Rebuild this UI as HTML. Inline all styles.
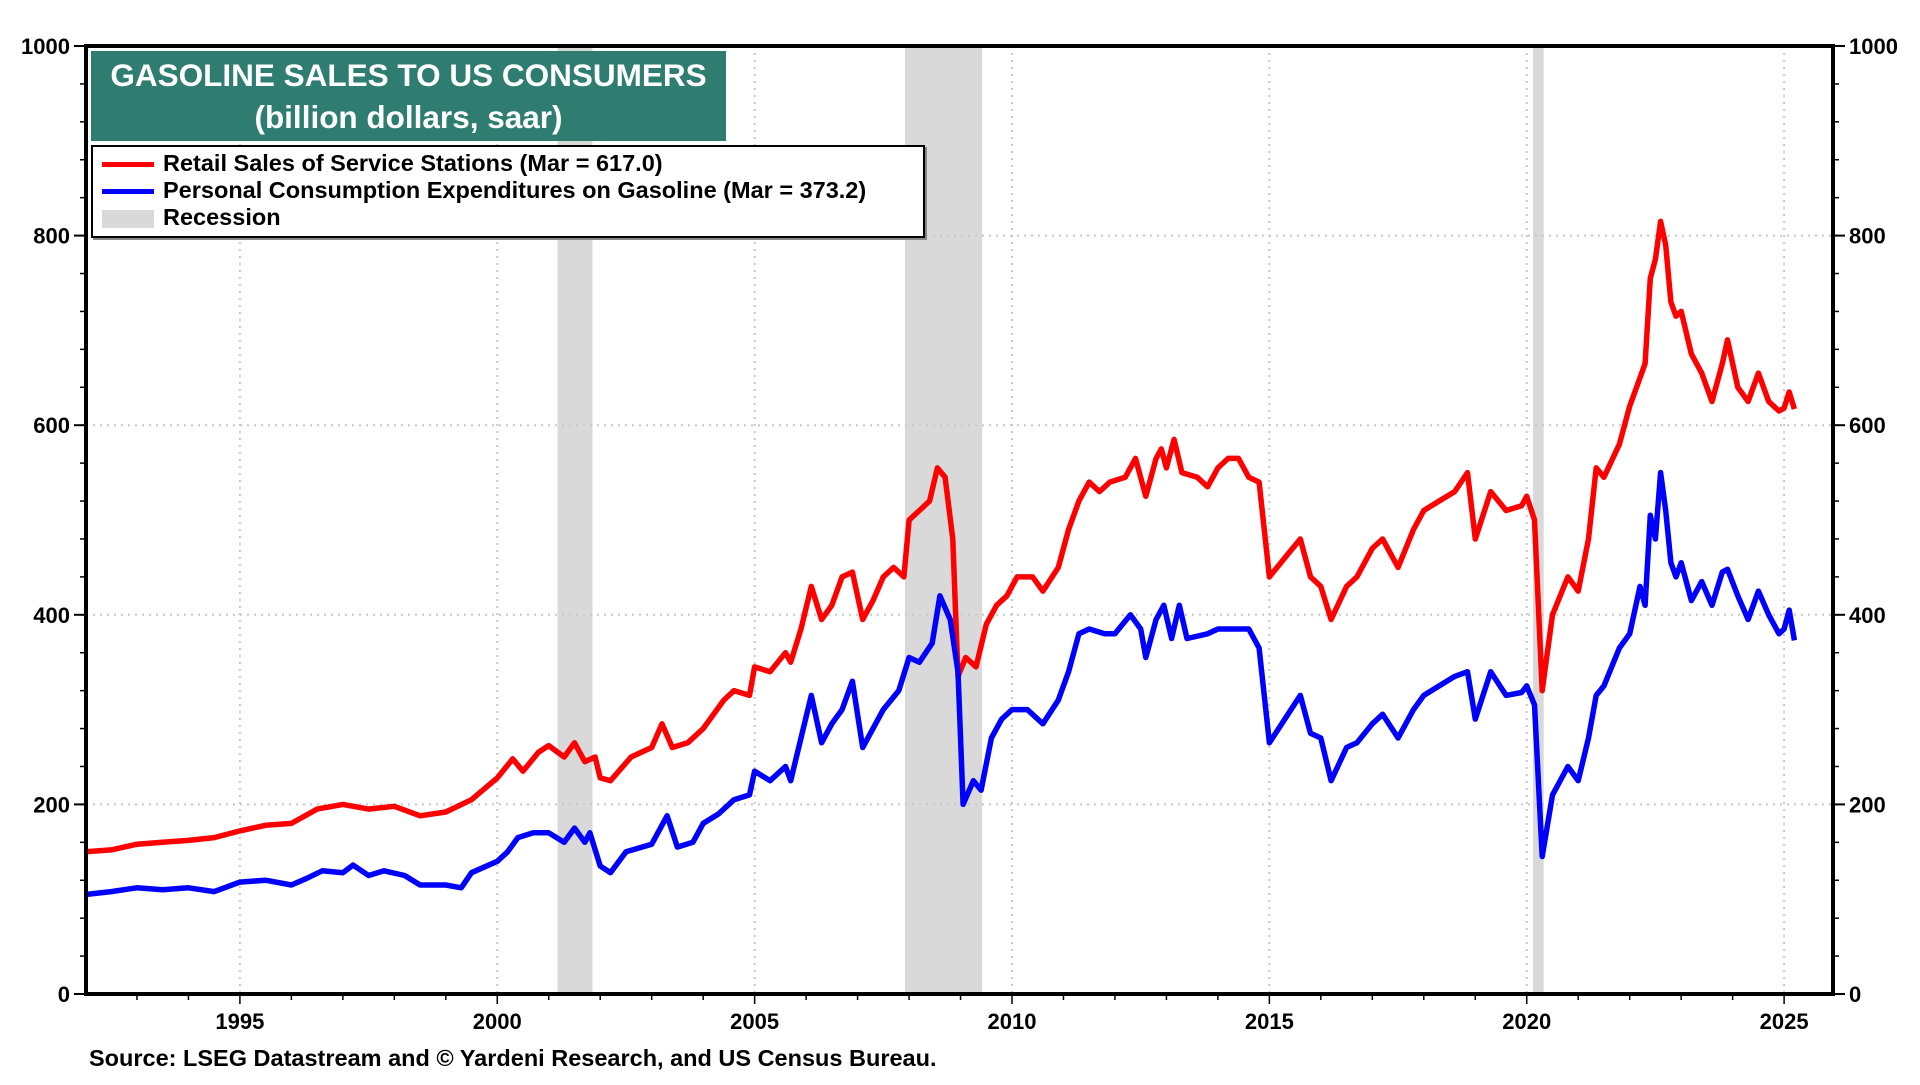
<!DOCTYPE html>
<html><head><meta charset="utf-8"><style>
html,body{margin:0;padding:0;background:#fff;}
body{width:1920px;height:1080px;overflow:hidden;font-family:"Liberation Sans",Arial,sans-serif;}
svg text{font-family:"Liberation Sans",Arial,sans-serif;font-weight:bold;}
</style></head><body>
<svg id="chart" width="1920" height="1080" viewBox="0 0 1920 1080"></svg>
<script>
const recStart=[2001.17,2007.92,2020.12];
const recEnd=[2001.85,2009.42,2020.33];
const yTicks=[0,200,400,600,800,1000];
const xTickYears=[1995,2000,2005,2010,2015,2020,2025];
const redX=[1992.0,1992.5,1993,1993.5,1994,1994.5,1995,1995.5,1996,1996.5,1997,1997.5,1998,1998.5,1999,1999.5,2000,2000.3,2000.5,2000.8,2001.0,2001.3,2001.5,2001.7,2001.9,2002.0,2002.2,2002.6,2003.0,2003.2,2003.4,2003.7,2004.0,2004.4,2004.6,2004.9,2005.0,2005.3,2005.6,2005.7,2005.9,2006.1,2006.3,2006.5,2006.7,2006.9,2007.1,2007.3,2007.5,2007.7,2007.9,2008.0,2008.2,2008.4,2008.55,2008.7,2008.85,2008.95,2009.1,2009.3,2009.5,2009.7,2009.9,2010.1,2010.4,2010.6,2010.9,2011.1,2011.3,2011.5,2011.7,2011.9,2012.2,2012.4,2012.6,2012.8,2012.9,2013.0,2013.15,2013.3,2013.6,2013.8,2014.0,2014.2,2014.4,2014.6,2014.8,2015.0,2015.3,2015.6,2015.8,2016.0,2016.2,2016.5,2016.7,2017.0,2017.2,2017.5,2017.8,2018.0,2018.3,2018.6,2018.85,2019.0,2019.3,2019.6,2019.9,2020.0,2020.15,2020.3,2020.5,2020.8,2021.0,2021.2,2021.35,2021.5,2021.8,2022.0,2022.2,2022.3,2022.4,2022.5,2022.6,2022.7,2022.8,2022.9,2023.0,2023.2,2023.4,2023.6,2023.8,2023.9,2024.1,2024.3,2024.5,2024.7,2024.9,2025.0,2025.1,2025.2];
const redY=[150,152,158,160,162,165,172,178,180,195,200,195,198,188,192,205,228,248,235,255,262,250,265,245,250,228,225,250,260,285,260,265,280,310,320,315,345,340,360,350,385,430,395,410,440,445,395,415,440,450,440,500,510,520,555,545,480,335,355,345,390,410,420,440,440,425,450,490,520,540,530,540,545,565,525,565,575,555,585,550,545,535,555,565,565,545,540,440,460,480,440,430,395,430,440,470,480,450,490,510,520,530,550,480,530,510,515,525,500,320,400,440,425,480,555,545,580,620,650,665,755,775,815,790,730,715,720,675,655,625,665,690,640,625,655,625,615,618,635,617];
const blueX=[1992.0,1992.5,1993,1993.5,1994,1994.5,1995,1995.5,1996,1996.3,1996.6,1997,1997.2,1997.5,1997.8,1998.2,1998.5,1999.0,1999.3,1999.5,2000.0,2000.2,2000.4,2000.7,2001.0,2001.3,2001.5,2001.7,2001.8,2002.0,2002.2,2002.5,2003.0,2003.3,2003.5,2003.8,2004.0,2004.3,2004.6,2004.9,2005.0,2005.3,2005.6,2005.7,2005.9,2006.1,2006.3,2006.5,2006.7,2006.9,2007.1,2007.3,2007.5,2007.8,2008.0,2008.2,2008.45,2008.6,2008.8,2008.95,2009.05,2009.25,2009.4,2009.6,2009.8,2010.0,2010.3,2010.6,2010.9,2011.1,2011.3,2011.5,2011.8,2012.0,2012.3,2012.5,2012.6,2012.8,2012.95,2013.1,2013.25,2013.4,2013.8,2014.0,2014.3,2014.6,2014.8,2015.0,2015.3,2015.6,2015.8,2016.0,2016.2,2016.5,2016.7,2017.0,2017.2,2017.5,2017.8,2018.0,2018.3,2018.6,2018.85,2019.0,2019.3,2019.6,2019.9,2020.0,2020.15,2020.3,2020.5,2020.8,2021.0,2021.2,2021.35,2021.5,2021.8,2022.0,2022.2,2022.3,2022.4,2022.5,2022.6,2022.7,2022.8,2022.9,2023.0,2023.2,2023.4,2023.6,2023.8,2023.9,2024.1,2024.3,2024.5,2024.7,2024.9,2025.0,2025.1,2025.2];
const blueY=[105,108,112,110,112,108,118,120,115,122,130,128,136,125,130,125,115,115,112,128,140,150,165,170,170,160,175,160,170,135,128,150,158,188,155,160,180,190,205,210,235,225,240,225,270,315,265,285,300,330,260,280,300,320,355,350,370,420,395,340,200,225,215,270,290,300,300,285,310,340,380,385,380,380,400,385,355,395,410,375,410,375,380,385,385,385,365,265,290,315,275,270,225,260,265,285,295,270,300,315,325,335,340,290,340,315,318,325,305,145,210,240,225,270,315,325,365,380,430,410,505,480,550,510,455,440,455,415,435,410,445,448,420,395,425,400,380,385,405,373];

const L=86,R=1833,T=46,B=994;
const X0=1992.01,X1=2025.95;
const xs=v=>L+(v-X0)/(X1-X0)*(R-L);
const ys=v=>B-v/1000*(B-T);
const svg=document.getElementById('chart');
const NS='http://www.w3.org/2000/svg';
function mk(tag,attrs,parent){const e=document.createElementNS(NS,tag);for(const k in attrs)e.setAttribute(k,attrs[k]);(parent||svg).appendChild(e);return e;}

for(let i=0;i<recStart.length;i++){
 const r=mk('rect',{x:xs(recStart[i]),y:T,width:xs(recEnd[i])-xs(recStart[i]),height:B-T,fill:'#d9d9d9'});
 
 
}
yTicks.forEach(v=>{ if(v>0&&v<1000){const g=mk('line',{x1:L,x2:R,y1:ys(v),y2:ys(v),stroke:'#c8c8c8','stroke-width':2,'stroke-dasharray':'2,5'});
 
 }});
xTickYears.forEach(v=>{const g=mk('line',{x1:xs(v),x2:xs(v),y1:T,y2:B,stroke:'#c8c8c8','stroke-width':2,'stroke-dasharray':'2,5'});
 
 });

function series(xa,ya,color,name){
 let d='';for(let i=0;i<xa.length;i++)d+=(i?'L':'M')+xs(xa[i]).toFixed(1)+','+ys(ya[i]).toFixed(1);
 const p=mk('path',{d:d,fill:'none',stroke:color,'stroke-width':5.5,'stroke-linejoin':'round'});
 
 
}
series(redX,redY,'#ff0000','retail-sales-line');
series(blueX,blueY,'#0000ff','pce-gasoline-line');

const fr=mk('rect',{x:L,y:T,width:R-L,height:B-T,fill:'none',stroke:'#000','stroke-width':4});



for(let v=0;v<=1000;v+=40){
 mk('line',{x1:L-6,x2:L,y1:ys(v),y2:ys(v),stroke:'#000','stroke-width':1.5});
 mk('line',{x1:R,x2:R+6,y1:ys(v),y2:ys(v),stroke:'#000','stroke-width':1.5});
}
yTicks.forEach(v=>{
 mk('line',{x1:L-12,x2:L,y1:ys(v),y2:ys(v),stroke:'#000','stroke-width':2});
 mk('line',{x1:R,x2:R+12,y1:ys(v),y2:ys(v),stroke:'#000','stroke-width':2});
 const t=mk('text',{x:L-16,y:ys(v)+8,'text-anchor':'end','font-size':22,fill:'#000'});t.textContent=v;
 
 
 const t2=mk('text',{x:R+16,y:ys(v)+8,'text-anchor':'start','font-size':22,fill:'#000'});t2.textContent=v;
 
 
});
for(let yr=1993;yr<=2025;yr++){
 const major=xTickYears.includes(yr);
 mk('line',{x1:xs(yr),x2:xs(yr),y1:B,y2:B+(major?10:6),stroke:'#000','stroke-width':1.5});
}
xTickYears.forEach(v=>{
 const t=mk('text',{x:xs(v),y:B+35,'text-anchor':'middle','font-size':22,fill:'#000'});t.textContent=v;
 
 
});
</script>
<div style="position:absolute;left:91px;top:51px;width:635px;height:90px;background:#2e7d70;color:#fff;font-weight:bold;text-align:center;font-size:31.5px;line-height:42px;">
 <div style="margin-top:3px">GASOLINE SALES TO US CONSUMERS</div>
 <div>(billion dollars, saar)</div>
</div>
<div style="position:absolute;left:91px;top:145px;width:830px;height:89px;border:2px solid #000;background:#fff;font-weight:bold;font-size:23.5px;box-shadow:2px 2px 0 #888;">
 <div style="position:absolute;left:9px;top:3px;line-height:26px;white-space:nowrap;"><span style="display:inline-block;width:52px;height:5px;background:#ff0000;vertical-align:middle;margin-right:9px"></span>Retail Sales of Service Stations (Mar = 617.0)</div>
 <div style="position:absolute;left:9px;top:30px;line-height:26px;white-space:nowrap;"><span style="display:inline-block;width:52px;height:5px;background:#0000ff;vertical-align:middle;margin-right:9px"></span>Personal Consumption Expenditures on Gasoline (Mar = 373.2)</div>
 <div style="position:absolute;left:9px;top:57px;line-height:26px;white-space:nowrap;"><span style="display:inline-block;width:52px;height:18px;background:#d9d9d9;vertical-align:middle;margin-right:9px"></span>Recession</div>
</div>
<div style="position:absolute;left:89px;top:1045px;font-weight:bold;font-size:23.5px;color:#000;white-space:nowrap;">Source: LSEG Datastream and © Yardeni Research, and US Census Bureau.</div>
</body></html>
